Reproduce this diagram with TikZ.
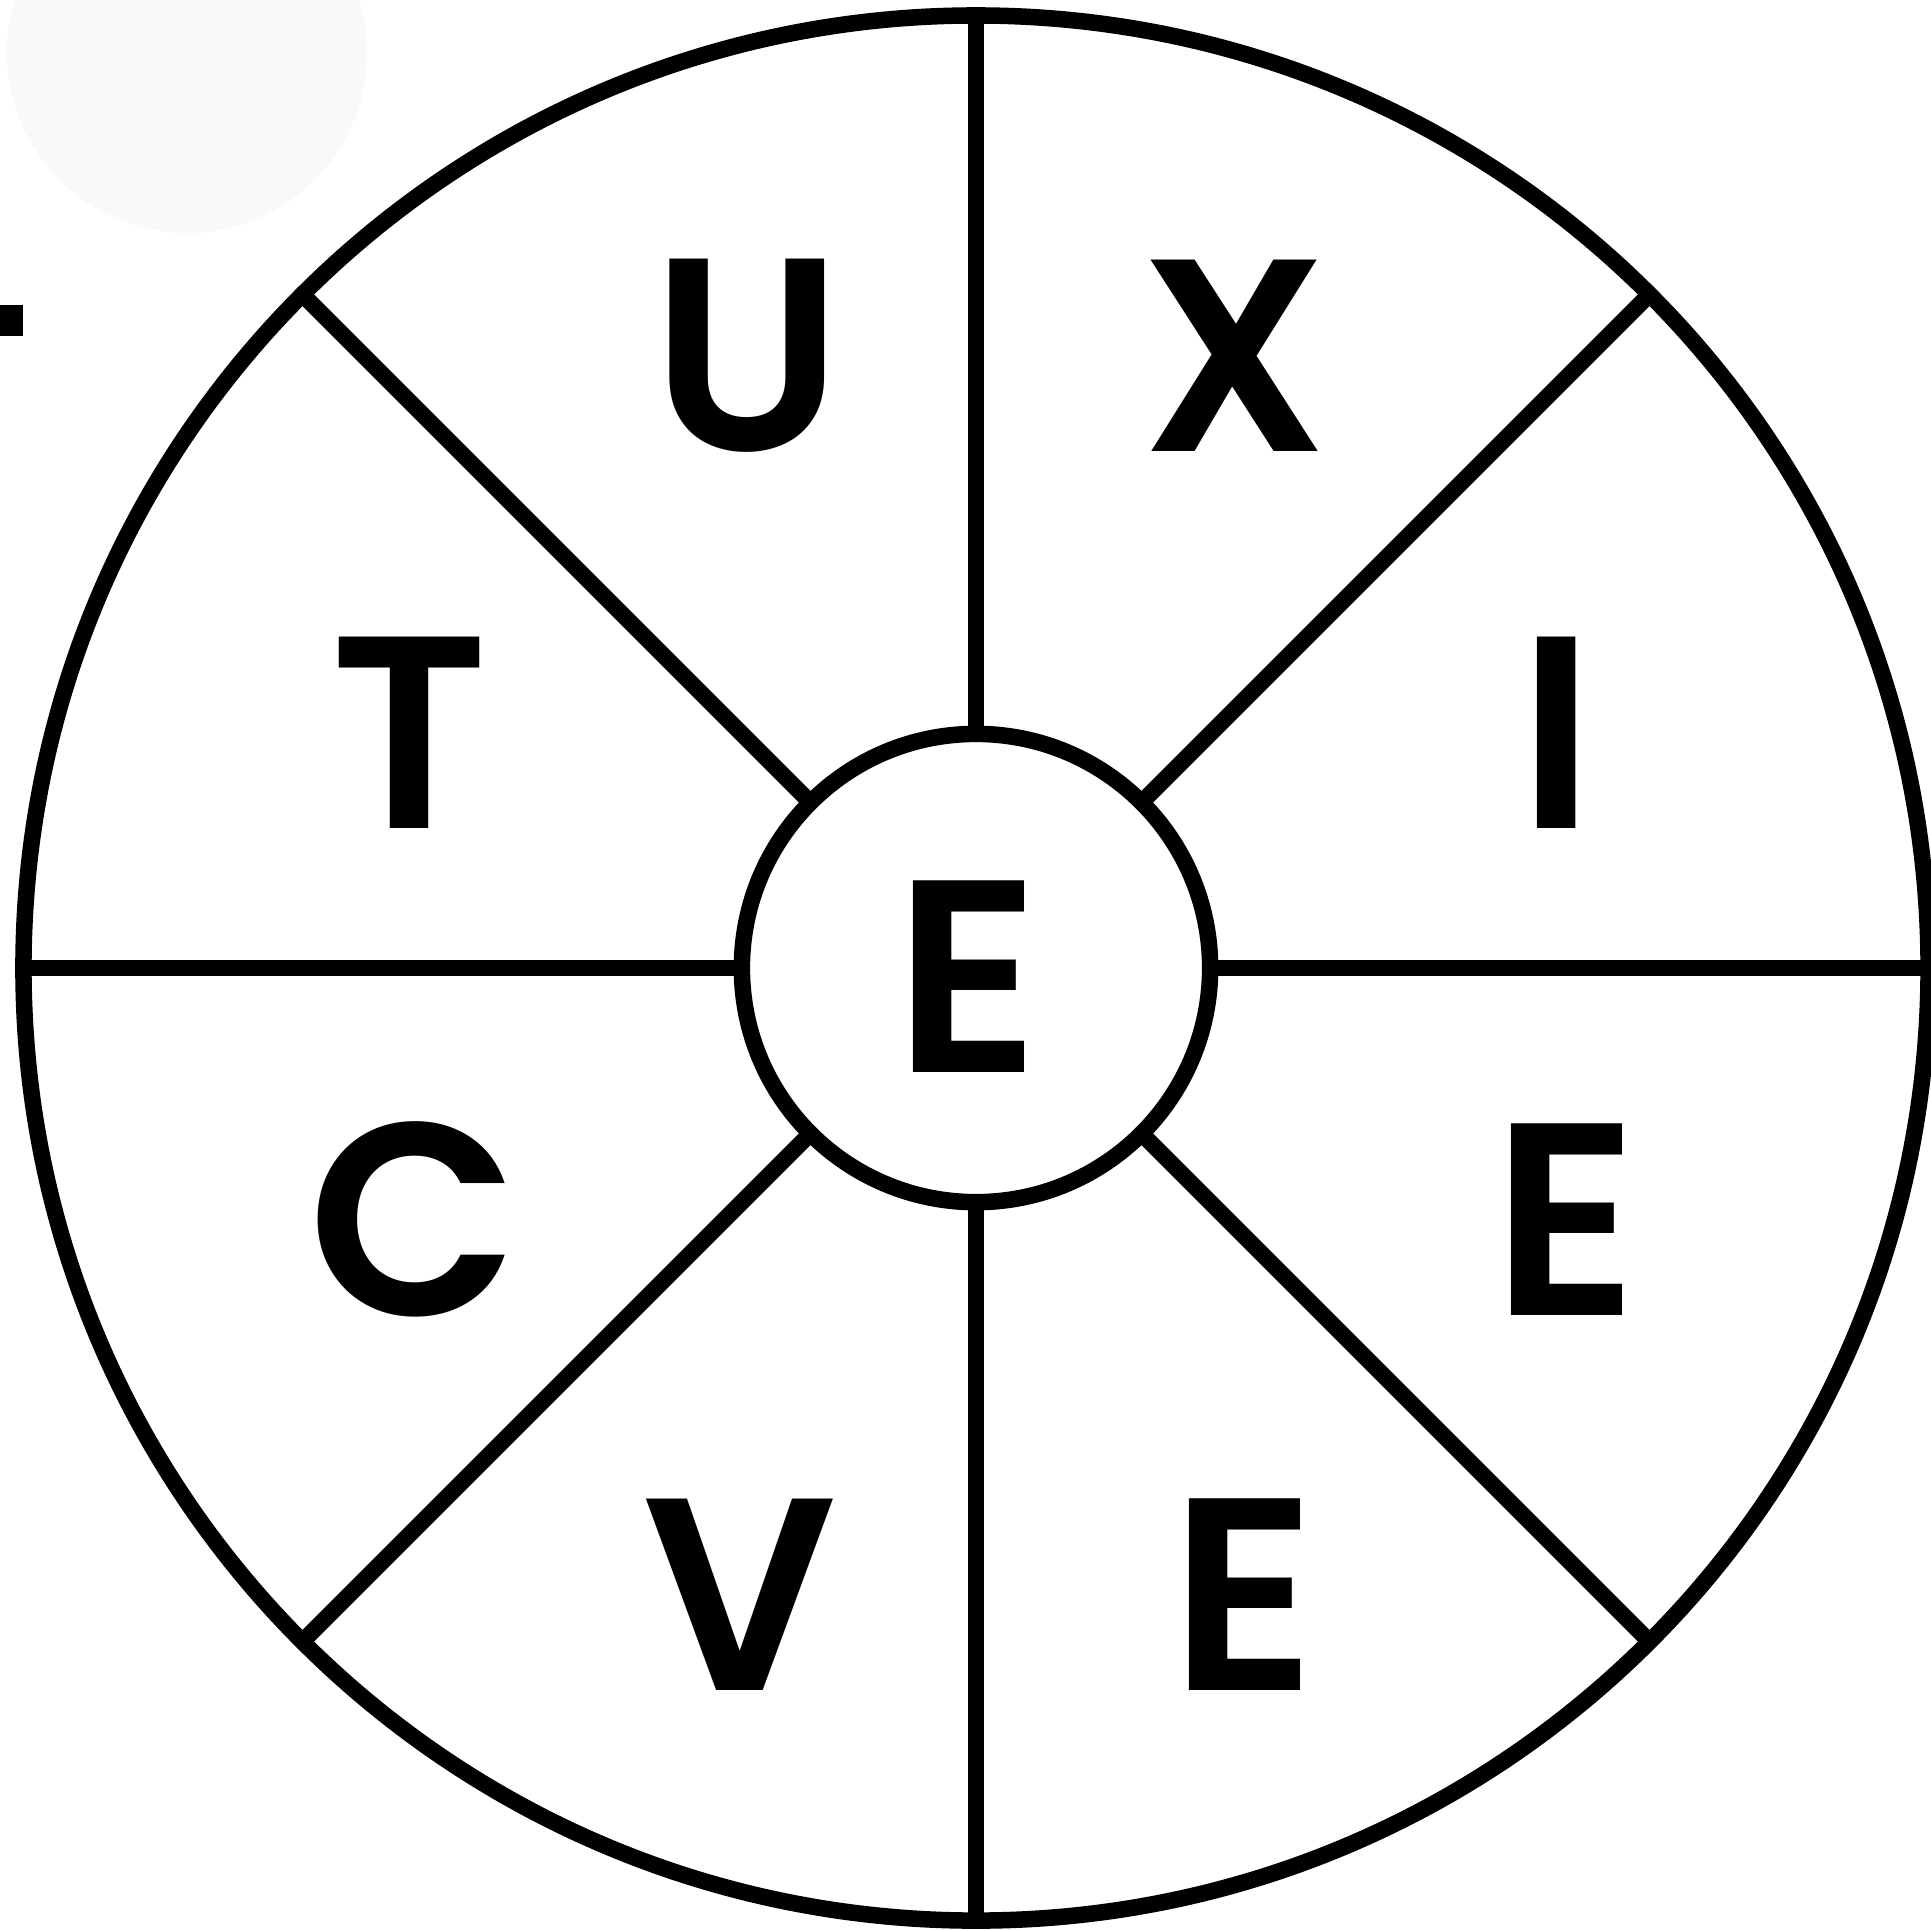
\documentclass[tikz,border=0pt]{standalone}
\usepackage{fontspec}
\newfontfamily\wheelfont{Poppins}[UprightFont=* SemiBold]
\usetikzlibrary{positioning}

\definecolor{ghost}{HTML}{F9F9F9}

\tikzset{
  ring/.style={draw=black, line width=0.165cm, circle, inner sep=0pt, outer sep=0pt},
  spoke/.style={black, line width=0.165cm},
  letter/.style={font=\wheelfont\fontsize{78}{78}\selectfont, anchor=base, inner sep=0pt}
}

\begin{document}
\begin{tikzpicture}[x=0.01cm, y=-0.01cm]

  \useasboundingbox (0,0) rectangle (1931,1929);

  % --- Stray marks ---
  \fill[ghost] (187,53) circle [radius=1.80cm];
  \fill[black] (0,305) rectangle (23,336);

  % --- Wheel ---
  \node[ring, minimum size=19.04cm] (rim) at (976,968) {};
  \node[ring, minimum size=4.68cm] (hub) at (976,968) {};
  \foreach \a in {0,45,...,315} {
    \draw[spoke] (hub.\a) -- (rim.\a);
  }

  % --- Letters ---
  \foreach \name/\ch/\x/\y in {u/U/747/450, x/X/1235/451, t/T/410/828, i/I/1557/828,
                               mid/E/967/1072, c/C/414/1315, e/E/1565/1315,
                               v/V/740/1690, ee/E/1243/1690} {
    \node[letter] (\name) at (\x,\y) {\ch};
  }

\end{tikzpicture}
\end{document}
